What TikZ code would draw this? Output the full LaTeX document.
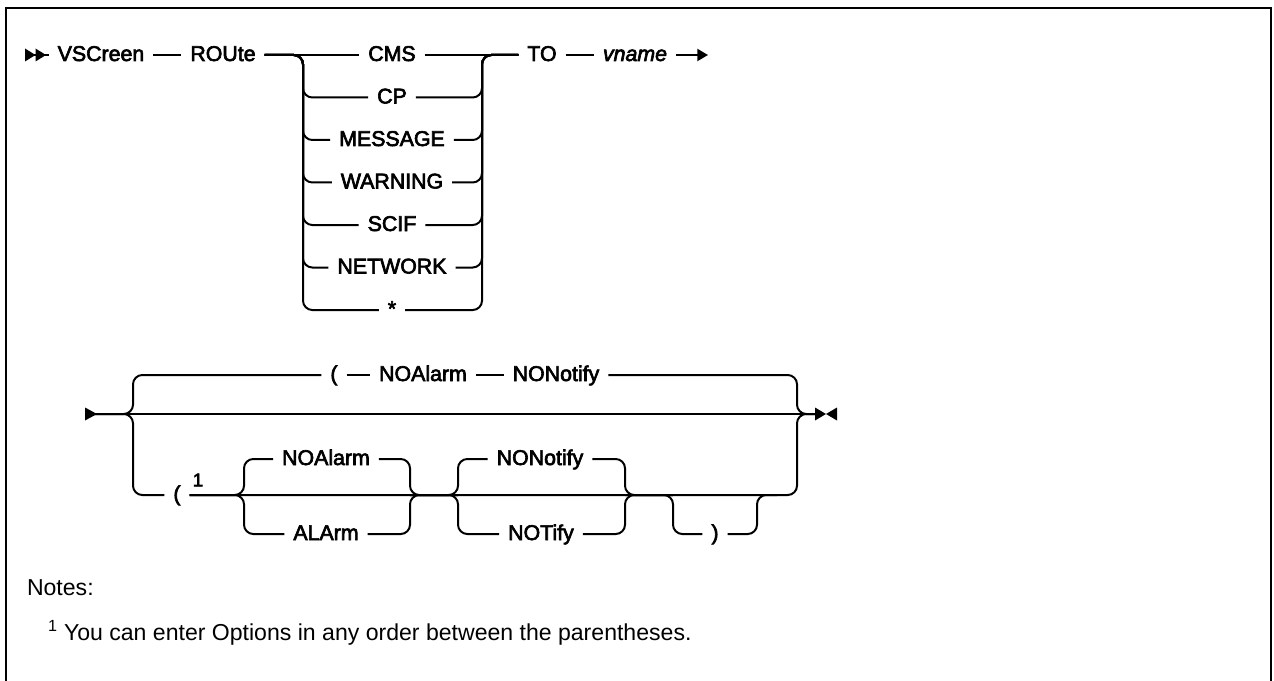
\documentclass[tikz,border=0pt]{standalone}
\usepackage{fontspec}
\setmainfont{Liberation Sans}
\newfontfamily\railfont{Liberation Sans}[FakeBold=3]
\usetikzlibrary{arrows.meta}

\tikzset{
  kw/.style={font={\railfont\fontsize{16}{19}\selectfont}, inner xsep=6pt, inner ysep=0pt, text height=9pt, text depth=0pt},
  supmark/.style={font={\railfont\fontsize{14}{16}\selectfont}, inner sep=0pt},
  note/.style={font={\fontsize{17.3}{21}\selectfont}, inner sep=0pt},
  rail/.style={rounded corners=7pt}
}

\begin{document}
\begin{tikzpicture}[x=0.75pt, y=-0.75pt, line width=1.5pt, >={Triangle[length=8pt,width=9pt]}]
  \useasboundingbox (0,0) rectangle (1274,681);
  % frame
  \draw (6,681) -- (6,8) -- (1271,8) -- (1271,681);

  % first line: VSCreen ROUte ... TO vname
  \coordinate (s1) at (25,55);
  \coordinate (l1) at (303,55);
  \coordinate (r1) at (482,55);
  \coordinate (e1) at (708,55);
  \node[kw] (vsc) at (101,55) {VSCreen};
  \node[kw] (route) at (223,55) {ROUte};
  \node[kw] (cms) at (392,55) {CMS};
  \node[kw] (cp) at (392,97.5) {CP};
  \node[kw] (msg) at (392,140) {MESSAGE};
  \node[kw] (warn) at (392,182.5) {WARNING};
  \node[kw] (scif) at (392,225) {SCIF};
  \node[kw] (netw) at (392,267.5) {NETWORK};
  \node[kw] (star) at (392,310) {*};
  \node[kw] (to) at (542,55) {TO};
  \node[kw] (vname) at (635,55) {\itshape vname};

  \fill (s1) -- ++(0,-6.5) -- ++(10.5,6.5) -- ++(-10.5,6.5) -- cycle;
  \fill (s1) ++(10.5,0) -- ++(0,-6.5) -- ++(10.5,6.5) -- ++(-10.5,6.5) -- cycle;
  \draw (s1) -- (vsc.west);
  \draw (vsc.east) -- (route.west);
  \draw (route.east) -- (cms.west);
  \draw (cms.east) -- (to.west);
  \draw[rail] (route.east) -- (l1) |- (cp.west);
  \draw[rail] (route.east) -- (l1) |- (msg.west);
  \draw[rail] (route.east) -- (l1) |- (warn.west);
  \draw[rail] (route.east) -- (l1) |- (scif.west);
  \draw[rail] (route.east) -- (l1) |- (netw.west);
  \draw[rail] (route.east) -- (l1) |- (star.west);
  \draw[rail] (cp.east) -| (r1) -- (to.west);
  \draw[rail] (msg.east) -| (r1) -- (to.west);
  \draw[rail] (warn.east) -| (r1) -- (to.west);
  \draw[rail] (scif.east) -| (r1) -- (to.west);
  \draw[rail] (netw.east) -| (r1) -- (to.west);
  \draw[rail] (star.east) -| (r1) -- (to.west);
  \draw (to.east) -- (vname.west);
  \draw[->] (vname.east) -- (e1);

  % second line: options
  \coordinate (s2) at (85,414);
  \coordinate (l2) at (133,414);
  \coordinate (r2) at (797,414);
  \coordinate (e2) at (815,414);
  \coordinate (ga1) at (244,495);
  \coordinate (ga2) at (410,495);
  \coordinate (gb1) at (458,495);
  \coordinate (gb2) at (625,495);
  \coordinate (gc1) at (673,495);
  \coordinate (gc2) at (757,495);
  \node[kw] (lpa) at (334,375) {(};
  \node[kw] (noa) at (423,375) {NOAlarm};
  \node[kw] (nonot) at (556,375) {NONotify};
  \node[kw] (lpb) at (177,495) {(};
  \node[supmark] (fna) at (198,480) {1};
  \node[kw] (noab) at (326,459) {NOAlarm};
  \node[kw] (alarm) at (326,534) {ALArm};
  \node[kw] (nonb) at (540,459) {NONotify};
  \node[kw] (notify) at (541,534) {NOTify};
  \node[kw] (rpar) at (715,534) {)};

  \fill (s2) -- ++(0,-6.5) -- ++(12,6.5) -- ++(-12,6.5) -- cycle;
  \fill (e2) -- ++(0,-6.5) -- ++(11,6.5) -- ++(-11,6.5) -- cycle;
  \fill (e2) ++(22,0) -- ++(0,-6.5) -- ++(-11,6.5) -- ++(11,6.5) -- cycle;
  \draw (s2) -- (e2);
  \draw[rail] (s2) -- (l2) |- (lpa.west);
  \draw (lpa.east) -- (noa.west);
  \draw (noa.east) -- (nonot.west);
  \draw[rail] (nonot.east) -| (r2) -- (e2);
  \draw[rail] (s2) -- (l2) |- (lpb.west);
  \draw[rail] (lpb.east) -- (gc2) -| (r2) -- (e2);
  \draw[rail] (lpb.east) -- (ga1) |- (noab.west);
  \draw[rail] (lpb.east) -- (ga1) |- (alarm.west);
  \draw[rail] (noab.east) -| (ga2) -- (gb1);
  \draw[rail] (alarm.east) -| (ga2) -- (gb1);
  \draw[rail] (ga2) -- (gb1) |- (nonb.west);
  \draw[rail] (ga2) -- (gb1) |- (notify.west);
  \draw[rail] (nonb.east) -| (gb2) -- (gc1);
  \draw[rail] (notify.east) -| (gb2) -- (gc1);
  \draw[rail] (gb2) -- (gc1) |- (rpar.west);
  \draw[rail] (rpar.east) -| (gc2) -- ++(20,0);

  % notes
  \node[note, anchor=base west] (notes) at (26,595) {Notes:};
  \node[note, anchor=base west] (fnote) at (47,640) {\textsuperscript{1} You can enter Options in any order between the parentheses.};
\end{tikzpicture}
\end{document}
